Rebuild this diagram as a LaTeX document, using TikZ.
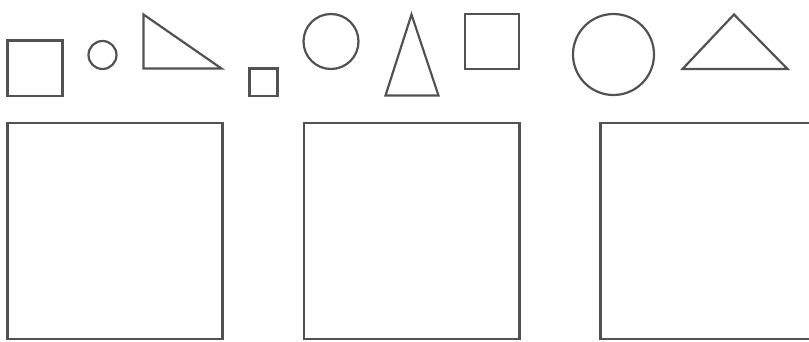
\documentclass[tikz,border=0pt]{standalone}
\begin{document}
\begin{tikzpicture}[x=1pt,y=-1pt,
  shp/.style={draw=black!68, line width=2.2pt, line join=miter}]
\useasboundingbox (0,0) rectangle (809,342);
% top row
\draw[shp] (7.5,40.5) rectangle (62.5,96);
\draw[shp] (102.5,55) circle (14);
\draw[shp] (143.5,14.5) -- (143.5,68.5) -- (221.5,68.5) -- cycle;
\draw[shp] (249.5,68.5) rectangle (277.5,96);
\draw[shp] (331,41.5) circle (27.5);
\draw[shp] (411.5,14.5) -- (438.5,95.5) -- (385.5,95.5) -- cycle;
\draw[shp] (465,14) rectangle (519,69);
\draw[shp] (613.5,54.5) circle (40.5);
\draw[shp] (734,14.5) -- (787.5,69) -- (682.5,69) -- cycle;
% bottom row
\draw[shp] (7.5,123) rectangle (222.5,339);
\draw[shp] (304,123) rectangle (519.5,339);
\draw[shp] (600.5,123) rectangle (816,339);
\end{tikzpicture}
\end{document}
